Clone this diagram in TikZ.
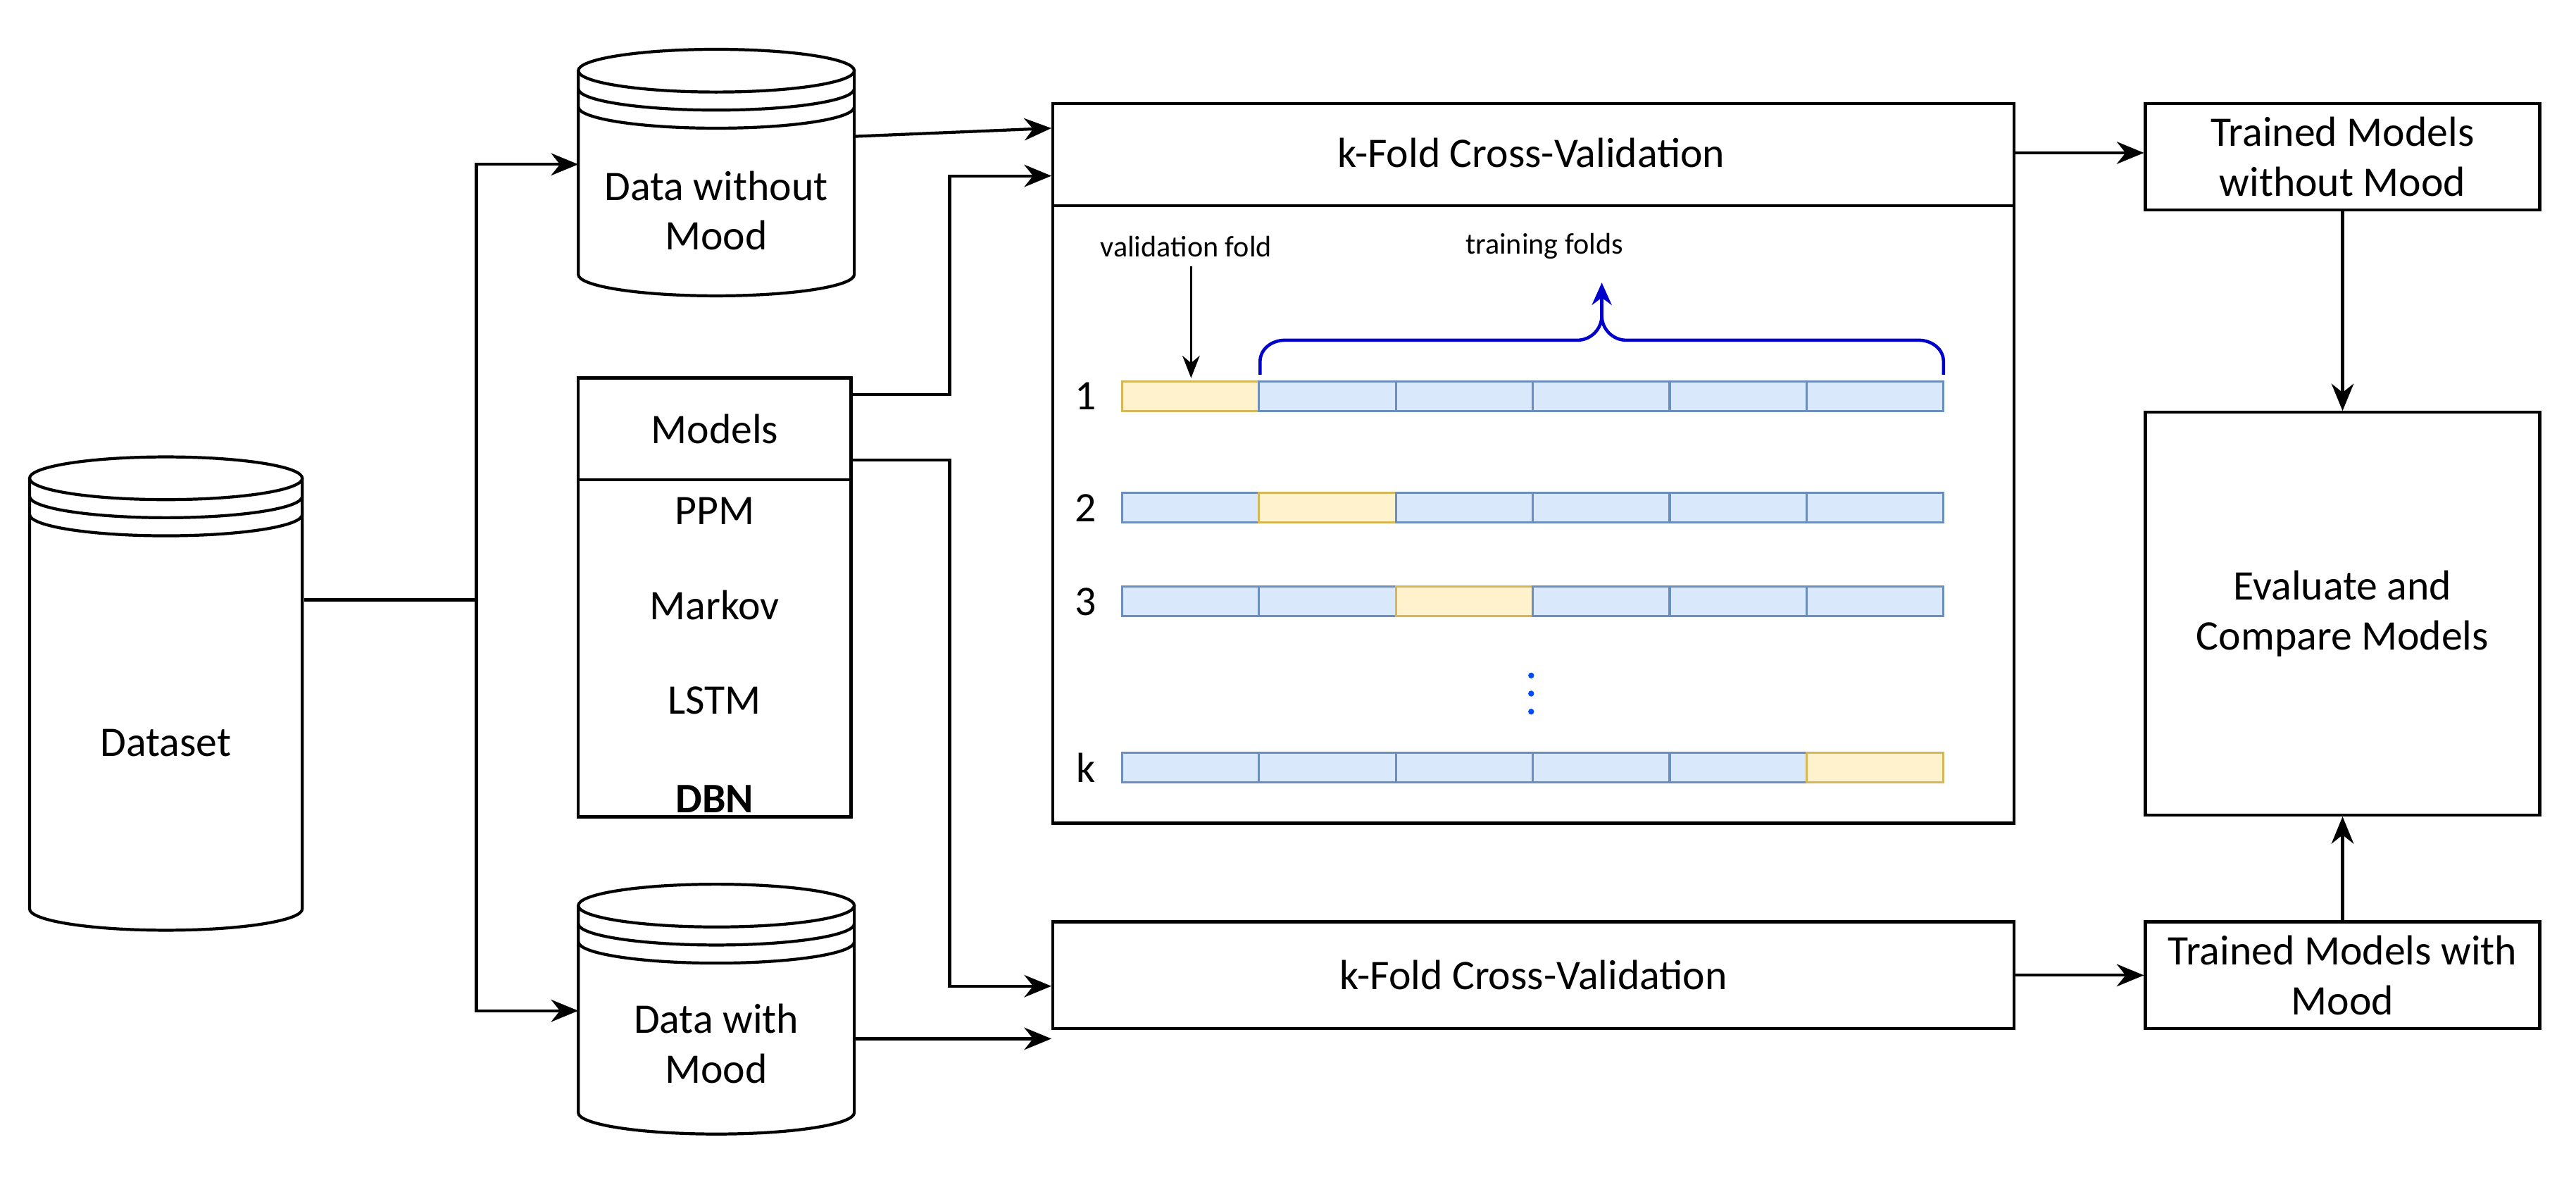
\documentclass[tikz,border=0pt]{standalone}
\usepackage{fontspec}
\setmainfont{Carlito}
\usetikzlibrary{arrows.meta}
\definecolor{fb}{HTML}{DAE8FC}\definecolor{fbd}{HTML}{6C8EBF}
\definecolor{fy}{HTML}{FFF2CC}\definecolor{fyd}{HTML}{D6B656}
\def\u{0.02333cm}
\newcommand\mycyl[4]{% cx top bottom rx
 \draw[line width=1.2pt,fill=white] ({#1-#4},{#2+13}) -- ({#1-#4},{#3-13}) arc[start angle=180,end angle=360,x radius={#4*\u},y radius={13*\u}] -- ({#1+#4},{#2+13});
 \draw[line width=1.2pt] (#1,{#2+13}) ellipse[x radius={#4*\u},y radius={13*\u}];
 \draw[line width=1.2pt] ({#1-#4},{#2+24}) arc[start angle=180,end angle=360,x radius={#4*\u},y radius={13*\u}];
 \draw[line width=1.2pt] ({#1-#4},{#2+35}) arc[start angle=180,end angle=360,x radius={#4*\u},y radius={13*\u}];
}
\begin{document}
\begin{tikzpicture}[x=\u,y=-\u,
 box/.style={draw,line width=1.2pt,fill=white,inner sep=0pt,align=center,font=\fontsize{17}{20}\selectfont},
 txt/.style={inner sep=0pt,align=center,font=\fontsize{17}{20}\selectfont},
 arr/.style={line width=1.2pt,-{Stealth[length=11pt,width=9pt]}},
 ln/.style={line width=1.2pt},
 fold/.style={draw=fbd,fill=fb,line width=0.9pt},
 vfold/.style={draw=fyd,fill=fy,line width=0.9pt}]
\useasboundingbox (0,0) rectangle (1568,725);
% cylinders
\mycyl{101}{278}{566}{83}
\node[txt] (ds) at (101,452) {Dataset};
\mycyl{436}{30}{180}{84}
\node[txt] (dwo) at (436,128) {Data without\\Mood};
\mycyl{436}{538}{690}{84}
\node[txt] (dw) at (436,635) {Data with\\Mood};
\coordinate (dsR) at (185,365);
\coordinate (dwoL) at (352,100);
\coordinate (dwL) at (352,615);
% models
\draw[ln,fill=white] (352,230) rectangle (518,497);
\draw[ln] (352,292) -- (518,292);
\node[txt] (mh) at (435,261) {Models};
\node[txt] at (435,311) {PPM};
\node[txt] at (435,368) {Markov};
\node[txt] at (435,426) {LSTM};
\node[txt] at (435,486) {\bfseries DBN};
\coordinate (mR1) at (518,240);
\coordinate (mR2) at (518,280);
% big kfold
\node[box,minimum width=585*\u,minimum height=438*\u,anchor=north west] (kb) at (640,62) {};
\draw[ln] (640,125) -- (1225,125);
\node[txt] (kt) at (932,93) {k-Fold Cross-Validation};
\node[box,minimum width=585*\u,minimum height=65*\u,anchor=north west] (kb2) at (640,560) {k-Fold Cross-Validation};
\node[box,minimum width=240*\u,minimum height=65*\u,anchor=north west] (two) at (1305,62) {Trained Models\\without Mood};
\node[box,minimum width=240*\u,minimum height=245*\u,anchor=north west] (ev) at (1305,250) {Evaluate and\\Compare Models};
\node[box,minimum width=240*\u,minimum height=65*\u,anchor=north west] (tw) at (1305,560) {Trained Models with\\Mood};
% folds
\foreach \r/\yy/\v in {1/232/0,2/300/1,3/357/2,k/458/5}{
 \node[txt] at (661,{\yy+9}) {\r};
 \foreach \i in {0,...,5}{
  \ifnum\i=\v \draw[vfold] ({683+\i*83.33},\yy) rectangle ({683+(\i+1)*83.33},{\yy+18});
  \else \draw[fold] ({683+\i*83.33},\yy) rectangle ({683+(\i+1)*83.33},{\yy+18}); \fi }}
\foreach \yy in {411,422,433} \fill[blue!70!cyan] (932,\yy) circle (1.8);
\node[inner sep=0pt,font=\fontsize{12}{14}\selectfont] (vf) at (722,150) {validation fold};
\node[inner sep=0pt,font=\fontsize{12}{14}\selectfont] (tf) at (940,150) {training folds};
\coordinate (vfe) at (725,230);
\draw[line width=1pt,-{Stealth[length=9pt,width=7pt]}] (725,162) -- (vfe);
\draw[blue!80!black,line width=1.3pt] (767,228) -- (767,220) to[out=90,in=180] (782,207) -- (960,207) to[out=0,in=-90] (975,192) to[out=-90,in=180] (990,207) -- (1168,207) to[out=0,in=90] (1183,220) -- (1183,228);
\coordinate (tip) at (975,172);
\draw[blue!80!black,line width=1.3pt,-{Stealth[length=9pt,width=8pt]}] (975,194) -- (tip);
% connectors
\draw[ln] (dsR) -- (290,365);
\draw[arr] (290,365) |- (dwoL);
\draw[arr] (290,365) |- (dwL);
\draw[arr] (520,83) -- (640,78);
\draw[arr] (mR1) -- (578,240) |- (640,107);
\draw[arr] (mR2) -- (578,280) |- (640,600);
\draw[arr] (520,632) -- (640,632);
\draw[arr] (1225,93) -- (two.west|-0,93);
\draw[arr] (two.south) -- (ev.north);
\draw[arr] (tw.north) -- (ev.south);
\draw[arr] (kb2.east) -- (tw.west);
\end{tikzpicture}
\end{document}
